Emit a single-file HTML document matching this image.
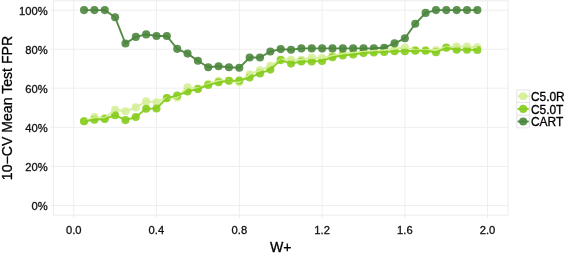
<!DOCTYPE html>
<html><head><meta charset="utf-8"><title>chart</title>
<style>html,body{margin:0;padding:0;background:#fff}body{width:568px;height:255px;overflow:hidden}</style>
</head><body>
<svg width="568" height="255" viewBox="0 0 568 255" style="display:block">
<rect width="568" height="255" fill="#fff"/>
<g stroke="#eeeeee" stroke-width="1" fill="none">
<line x1="53.4" x2="508.0" y1="10.2" y2="10.2"/>
<line x1="53.4" x2="508.0" y1="49.2" y2="49.2"/>
<line x1="53.4" x2="508.0" y1="88.2" y2="88.2"/>
<line x1="53.4" x2="508.0" y1="127.3" y2="127.3"/>
<line x1="53.4" x2="508.0" y1="166.4" y2="166.4"/>
<line x1="53.4" x2="508.0" y1="205.5" y2="205.5"/>
<line x1="73.7" x2="73.7" y1="0.8" y2="215.1"/>
<line x1="156.4" x2="156.4" y1="0.8" y2="215.1"/>
<line x1="239.4" x2="239.4" y1="0.8" y2="215.1"/>
<line x1="322.1" x2="322.1" y1="0.8" y2="215.1"/>
<line x1="404.9" x2="404.9" y1="0.8" y2="215.1"/>
<line x1="487.5" x2="487.5" y1="0.8" y2="215.1"/>
</g>
<rect x="53.4" y="0.8" width="454.6" height="214.29999999999998" fill="none" stroke="#ececec" stroke-width="1"/>
<g stroke="#ececec" stroke-width="1">
<line x1="50.4" x2="53.4" y1="10.2" y2="10.2"/>
<line x1="50.4" x2="53.4" y1="49.2" y2="49.2"/>
<line x1="50.4" x2="53.4" y1="88.2" y2="88.2"/>
<line x1="50.4" x2="53.4" y1="127.3" y2="127.3"/>
<line x1="50.4" x2="53.4" y1="166.4" y2="166.4"/>
<line x1="50.4" x2="53.4" y1="205.5" y2="205.5"/>
<line x1="73.7" x2="73.7" y1="215.1" y2="218.1"/>
<line x1="156.4" x2="156.4" y1="215.1" y2="218.1"/>
<line x1="239.4" x2="239.4" y1="215.1" y2="218.1"/>
<line x1="322.1" x2="322.1" y1="215.1" y2="218.1"/>
<line x1="404.9" x2="404.9" y1="215.1" y2="218.1"/>
<line x1="487.5" x2="487.5" y1="215.1" y2="218.1"/>
</g>
<g fill="#d6ee98" fill-opacity="0.9"><circle cx="84.05" cy="121.30" r="4.05"/><circle cx="94.40" cy="117.10" r="4.05"/><circle cx="104.75" cy="118.00" r="4.05"/><circle cx="115.10" cy="109.80" r="4.05"/><circle cx="125.45" cy="111.30" r="4.05"/><circle cx="135.80" cy="107.40" r="4.05"/><circle cx="146.15" cy="101.40" r="4.05"/><circle cx="156.50" cy="102.20" r="4.05"/><circle cx="166.85" cy="98.00" r="4.05"/><circle cx="177.20" cy="97.50" r="4.05"/><circle cx="187.55" cy="87.20" r="4.05"/><circle cx="197.90" cy="88.50" r="4.05"/><circle cx="208.25" cy="83.80" r="4.05"/><circle cx="218.60" cy="80.70" r="4.05"/><circle cx="228.95" cy="80.70" r="4.05"/><circle cx="239.30" cy="82.30" r="4.05"/><circle cx="249.65" cy="74.20" r="4.05"/><circle cx="260.00" cy="70.40" r="4.05"/><circle cx="270.35" cy="65.80" r="4.05"/><circle cx="280.70" cy="59.50" r="4.05"/><circle cx="291.05" cy="59.80" r="4.05"/><circle cx="301.40" cy="59.70" r="4.05"/><circle cx="311.75" cy="57.80" r="4.05"/><circle cx="322.10" cy="58.00" r="4.05"/><circle cx="332.45" cy="55.80" r="4.05"/><circle cx="342.80" cy="53.80" r="4.05"/><circle cx="353.15" cy="52.60" r="4.05"/><circle cx="363.50" cy="51.60" r="4.05"/><circle cx="373.85" cy="50.80" r="4.05"/><circle cx="384.20" cy="50.30" r="4.05"/><circle cx="394.55" cy="48.80" r="4.05"/><circle cx="404.90" cy="47.60" r="4.05"/><circle cx="415.25" cy="49.90" r="4.05"/><circle cx="425.60" cy="50.00" r="4.05"/><circle cx="435.95" cy="50.00" r="4.05"/><circle cx="446.30" cy="47.20" r="4.05"/><circle cx="456.65" cy="46.60" r="4.05"/><circle cx="467.00" cy="46.60" r="4.05"/><circle cx="477.35" cy="47.20" r="4.05"/></g>
<g fill="#86cc1e" fill-opacity="0.9"><circle cx="84.05" cy="121.30" r="4.05"/><circle cx="94.40" cy="119.80" r="4.05"/><circle cx="104.75" cy="119.00" r="4.05"/><circle cx="115.10" cy="115.20" r="4.05"/><circle cx="125.45" cy="120.10" r="4.05"/><circle cx="135.80" cy="117.00" r="4.05"/><circle cx="146.15" cy="108.70" r="4.05"/><circle cx="156.50" cy="108.50" r="4.05"/><circle cx="166.85" cy="98.10" r="4.05"/><circle cx="177.20" cy="95.60" r="4.05"/><circle cx="187.55" cy="91.50" r="4.05"/><circle cx="197.90" cy="89.00" r="4.05"/><circle cx="208.25" cy="85.00" r="4.05"/><circle cx="218.60" cy="82.30" r="4.05"/><circle cx="228.95" cy="80.70" r="4.05"/><circle cx="239.30" cy="80.60" r="4.05"/><circle cx="249.65" cy="77.50" r="4.05"/><circle cx="260.00" cy="73.40" r="4.05"/><circle cx="270.35" cy="69.60" r="4.05"/><circle cx="280.70" cy="60.10" r="4.05"/><circle cx="291.05" cy="63.60" r="4.05"/><circle cx="301.40" cy="61.50" r="4.05"/><circle cx="311.75" cy="61.40" r="4.05"/><circle cx="322.10" cy="61.00" r="4.05"/><circle cx="332.45" cy="57.20" r="4.05"/><circle cx="342.80" cy="55.40" r="4.05"/><circle cx="353.15" cy="54.50" r="4.05"/><circle cx="363.50" cy="53.00" r="4.05"/><circle cx="373.85" cy="52.50" r="4.05"/><circle cx="384.20" cy="52.00" r="4.05"/><circle cx="394.55" cy="51.30" r="4.05"/><circle cx="404.90" cy="51.30" r="4.05"/><circle cx="415.25" cy="50.70" r="4.05"/><circle cx="425.60" cy="50.70" r="4.05"/><circle cx="435.95" cy="52.30" r="4.05"/><circle cx="446.30" cy="47.80" r="4.05"/><circle cx="456.65" cy="49.70" r="4.05"/><circle cx="467.00" cy="49.70" r="4.05"/><circle cx="477.35" cy="50.00" r="4.05"/></g>
<g fill="#4b863d" fill-opacity="0.9"><circle cx="84.05" cy="10.10" r="4.05"/><circle cx="94.40" cy="10.10" r="4.05"/><circle cx="104.75" cy="10.10" r="4.05"/><circle cx="115.10" cy="17.30" r="4.05"/><circle cx="125.45" cy="43.50" r="4.05"/><circle cx="135.80" cy="36.90" r="4.05"/><circle cx="146.15" cy="34.40" r="4.05"/><circle cx="156.50" cy="36.00" r="4.05"/><circle cx="166.85" cy="36.00" r="4.05"/><circle cx="177.20" cy="48.85" r="4.05"/><circle cx="187.55" cy="53.60" r="4.05"/><circle cx="197.90" cy="60.70" r="4.05"/><circle cx="208.25" cy="67.30" r="4.05"/><circle cx="218.60" cy="66.20" r="4.05"/><circle cx="228.95" cy="67.30" r="4.05"/><circle cx="239.30" cy="67.80" r="4.05"/><circle cx="249.65" cy="57.50" r="4.05"/><circle cx="260.00" cy="57.50" r="4.05"/><circle cx="270.35" cy="51.50" r="4.05"/><circle cx="280.70" cy="49.10" r="4.05"/><circle cx="291.05" cy="49.70" r="4.05"/><circle cx="301.40" cy="48.40" r="4.05"/><circle cx="311.75" cy="48.40" r="4.05"/><circle cx="322.10" cy="48.40" r="4.05"/><circle cx="332.45" cy="48.40" r="4.05"/><circle cx="342.80" cy="48.40" r="4.05"/><circle cx="353.15" cy="48.40" r="4.05"/><circle cx="363.50" cy="48.40" r="4.05"/><circle cx="373.85" cy="48.20" r="4.05"/><circle cx="384.20" cy="47.70" r="4.05"/><circle cx="394.55" cy="43.30" r="4.05"/><circle cx="404.90" cy="38.30" r="4.05"/><circle cx="415.25" cy="23.80" r="4.05"/><circle cx="425.60" cy="12.90" r="4.05"/><circle cx="435.95" cy="10.10" r="4.05"/><circle cx="446.30" cy="10.10" r="4.05"/><circle cx="456.65" cy="10.10" r="4.05"/><circle cx="467.00" cy="10.10" r="4.05"/><circle cx="477.35" cy="10.10" r="4.05"/></g>
<polyline points="84.05,121.30 94.40,117.10 104.75,118.00 115.10,109.80 125.45,111.30 135.80,107.40 146.15,101.40 156.50,102.20 166.85,98.00 177.20,97.50 187.55,87.20 197.90,88.50 208.25,83.80 218.60,80.70 228.95,80.70 239.30,82.30 249.65,74.20 260.00,70.40 270.35,65.80 280.70,59.50 291.05,59.80 301.40,59.70 311.75,57.80 322.10,58.00 332.45,55.80 342.80,53.80 353.15,52.60 363.50,51.60 373.85,50.80 384.20,50.30 394.55,48.80 404.90,47.60 415.25,49.90 425.60,50.00 435.95,50.00 446.30,47.20 456.65,46.60 467.00,46.60 477.35,47.20" fill="none" stroke="#d6ee98" stroke-width="1.9" stroke-linejoin="round" stroke-opacity="0.95"/>
<polyline points="84.05,121.30 94.40,119.80 104.75,119.00 115.10,115.20 125.45,120.10 135.80,117.00 146.15,108.70 156.50,108.50 166.85,98.10 177.20,95.60 187.55,91.50 197.90,89.00 208.25,85.00 218.60,82.30 228.95,80.70 239.30,80.60 249.65,77.50 260.00,73.40 270.35,69.60 280.70,60.10 291.05,63.60 301.40,61.50 311.75,61.40 322.10,61.00 332.45,57.20 342.80,55.40 353.15,54.50 363.50,53.00 373.85,52.50 384.20,52.00 394.55,51.30 404.90,51.30 415.25,50.70 425.60,50.70 435.95,52.30 446.30,47.80 456.65,49.70 467.00,49.70 477.35,50.00" fill="none" stroke="#86cc1e" stroke-width="1.9" stroke-linejoin="round" stroke-opacity="0.95"/>
<polyline points="84.05,10.10 94.40,10.10 104.75,10.10 115.10,17.30 125.45,43.50 135.80,36.90 146.15,34.40 156.50,36.00 166.85,36.00 177.20,48.85 187.55,53.60 197.90,60.70 208.25,67.30 218.60,66.20 228.95,67.30 239.30,67.80 249.65,57.50 260.00,57.50 270.35,51.50 280.70,49.10 291.05,49.70 301.40,48.40 311.75,48.40 322.10,48.40 332.45,48.40 342.80,48.40 353.15,48.40 363.50,48.40 373.85,48.20 384.20,47.70 394.55,43.30 404.90,38.30 415.25,23.80 425.60,12.90 435.95,10.10 446.30,10.10 456.65,10.10 467.00,10.10 477.35,10.10" fill="none" stroke="#4b863d" stroke-width="1.9" stroke-linejoin="round" stroke-opacity="0.95"/>
<g font-family="'Liberation Sans', Arial, Helvetica, sans-serif" fill="#111" stroke="#111" stroke-width="0.3">
<g font-size="11.2" text-anchor="end">
<text x="47.6" y="14.60">100%</text>
<text x="47.6" y="53.60">80%</text>
<text x="47.6" y="92.60">60%</text>
<text x="47.6" y="131.70">40%</text>
<text x="47.6" y="170.80">20%</text>
<text x="47.6" y="209.90">0%</text>
</g><g font-size="11.2" text-anchor="middle">
<text x="73.7" y="233.7">0.0</text>
<text x="156.4" y="233.7">0.4</text>
<text x="239.4" y="233.7">0.8</text>
<text x="322.1" y="233.7">1.2</text>
<text x="404.9" y="233.7">1.6</text>
<text x="487.5" y="233.7">2.0</text>
</g>
<text x="280.8" y="252.1" font-size="14.1" text-anchor="middle" fill="#000" stroke="#000">W+</text>
<text transform="translate(11.8,108.0) rotate(-90)" font-size="14.1" text-anchor="middle" fill="#000" stroke="#000">10−CV Mean Test FPR</text>
<rect x="516.8" y="90.0" width="12.7" height="12.6" fill="#fff" stroke="#e3e3e3" stroke-width="0.9"/>
<circle cx="523.15" cy="96.30" r="4.05" fill="#d6ee98" fill-opacity="0.9" stroke="none"/>
<line x1="517.6" x2="528.7" y1="96.30" y2="96.30" stroke="#d6ee98" stroke-width="1.9"/>
<text x="530.9" y="101.2" font-size="11.95" fill="#000" stroke="#000">C5.0R</text>
<rect x="516.8" y="102.6" width="12.7" height="12.6" fill="#fff" stroke="#e3e3e3" stroke-width="0.9"/>
<circle cx="523.15" cy="108.90" r="4.05" fill="#86cc1e" fill-opacity="0.9" stroke="none"/>
<line x1="517.6" x2="528.7" y1="108.90" y2="108.90" stroke="#86cc1e" stroke-width="1.9"/>
<text x="530.9" y="113.6" font-size="11.95" fill="#000" stroke="#000">C5.0T</text>
<rect x="516.8" y="115.2" width="12.7" height="12.6" fill="#fff" stroke="#e3e3e3" stroke-width="0.9"/>
<circle cx="523.15" cy="121.50" r="4.05" fill="#4b863d" fill-opacity="0.9" stroke="none"/>
<line x1="517.6" x2="528.7" y1="121.50" y2="121.50" stroke="#4b863d" stroke-width="1.9"/>
<text x="530.9" y="125.9" font-size="11.95" fill="#000" stroke="#000">CART</text>
</g></svg>
</body></html>
